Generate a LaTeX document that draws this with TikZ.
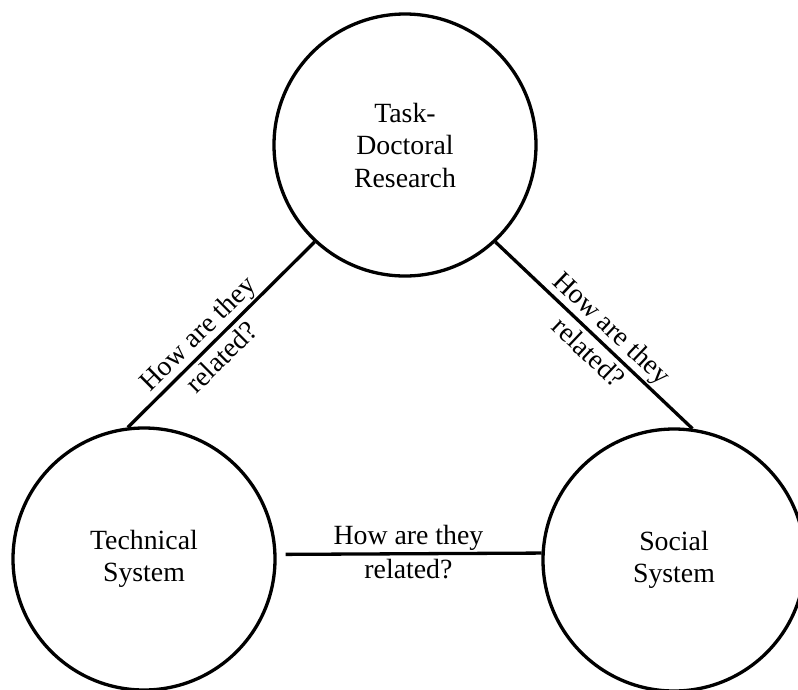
\documentclass[tikz,border=0pt]{standalone}
\usepackage{fontspec}
\setmainfont{Liberation Serif}
\begin{document}
\begin{tikzpicture}[x=1pt,y=-1pt,
  sys/.style={draw,circle,line width=3.3pt,minimum size=262pt,inner sep=0pt,
    align=center,font=\fontsize{27.8}{32.5}\selectfont},
  link/.style={line width=3.3pt},
  rel/.style={align=center,font=\fontsize{27.8}{34}\selectfont,inner sep=0pt}]
\useasboundingbox (0,0) rectangle (798,689);
\node[sys] (task) at (405,145) {Task-\\Doctoral\\Research};
\node[sys] (tech) at (144,559) {Technical\\System};
\node[sys] (soc) at (674,560) {Social\\System};
\draw[link] (tech.97) -- node[rel,sloped,pos=0.44] {How are they\\related?\rule[-3pt]{0pt}{0pt}} (task.227);
\draw[link] (task.313) -- node[rel,sloped,pos=0.53] {How are they\\related?\rule[-3pt]{0pt}{0pt}} (soc.82);
\draw[link] ([xshift=9pt]tech.2.6) -- node[rel,pos=0.48] {How are they\\related?\rule[-3pt]{0pt}{0pt}} (soc.177);
\end{tikzpicture}
\end{document}
